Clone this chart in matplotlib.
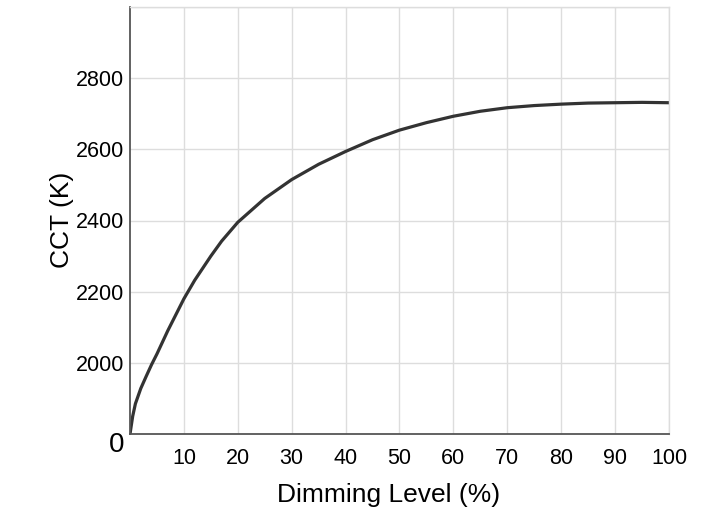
import numpy as np
import matplotlib
matplotlib.use('Agg')
import matplotlib.pyplot as plt
from matplotlib import font_manager

# Data
dimming = [0, 0.5, 1, 2, 3, 4, 5, 7, 10, 12, 15, 17, 20, 25, 30, 35, 40, 45, 50,
           55, 60, 65, 70, 75, 80, 85, 90, 95, 100]
cct = [1800, 1850, 1885, 1928, 1962, 1995, 2025, 2090, 2180, 2232, 2300, 2342,
       2395, 2462, 2515, 2558, 2594, 2627, 2654, 2675, 2693, 2707, 2717, 2723,
       2727, 2730, 2731, 2732, 2731]
x_ticks = [10, 20, 30, 40, 50, 60, 70, 80, 90, 100]
y_ticks = [2000, 2200, 2400, 2600, 2800, 3000]
y_ticklabels = ['2000', '2200', '2400', '2600', '2800', '']

names = {f.name for f in font_manager.fontManager.ttflist}
fam = ['Liberation Sans Narrow'] if 'Liberation Sans Narrow' in names else ['Liberation Sans']
plt.rcParams['font.family'] = fam + ['DejaVu Sans']

fig = plt.figure(figsize=(7.18, 5.15), dpi=100)
ax = fig.add_axes([130/718, 1 - 434/515, 539/718, 427/515])

ax.plot(dimming, cct, color='#333333', linewidth=2.3, solid_capstyle='round')

ax.set_xlim(0, 100)
ax.set_ylim(1800, 3000)
ax.set_xticks(x_ticks)
ax.set_yticks(y_ticks)
ax.set_yticklabels(y_ticklabels)
ax.tick_params(length=0, labelsize=15.5, colors='black')
ax.tick_params(axis='x', pad=10)
ax.tick_params(axis='y', pad=4)

ax.grid(color='#dddddd', linewidth=1.0)
ax.set_axisbelow(True)
for s in ['top', 'right']:
    ax.spines[s].set_color('#dddddd')
    ax.spines[s].set_linewidth(1.0)
for s in ['left', 'bottom']:
    ax.spines[s].set_color('#555555')
    ax.spines[s].set_linewidth(1.3)

fig.text(117/718, 1 - 445/515, '0', fontsize=20, ha='center', va='center')
fig.text(62/718, 1 - 220/515, 'CCT (K)', fontsize=19, rotation=90,
         ha='center', va='center')
fig.text(389/718, 1 - 495/515, 'Dimming Level (%)', fontsize=19,
         ha='center', va='center')

fig.savefig('out.png', dpi=100)
